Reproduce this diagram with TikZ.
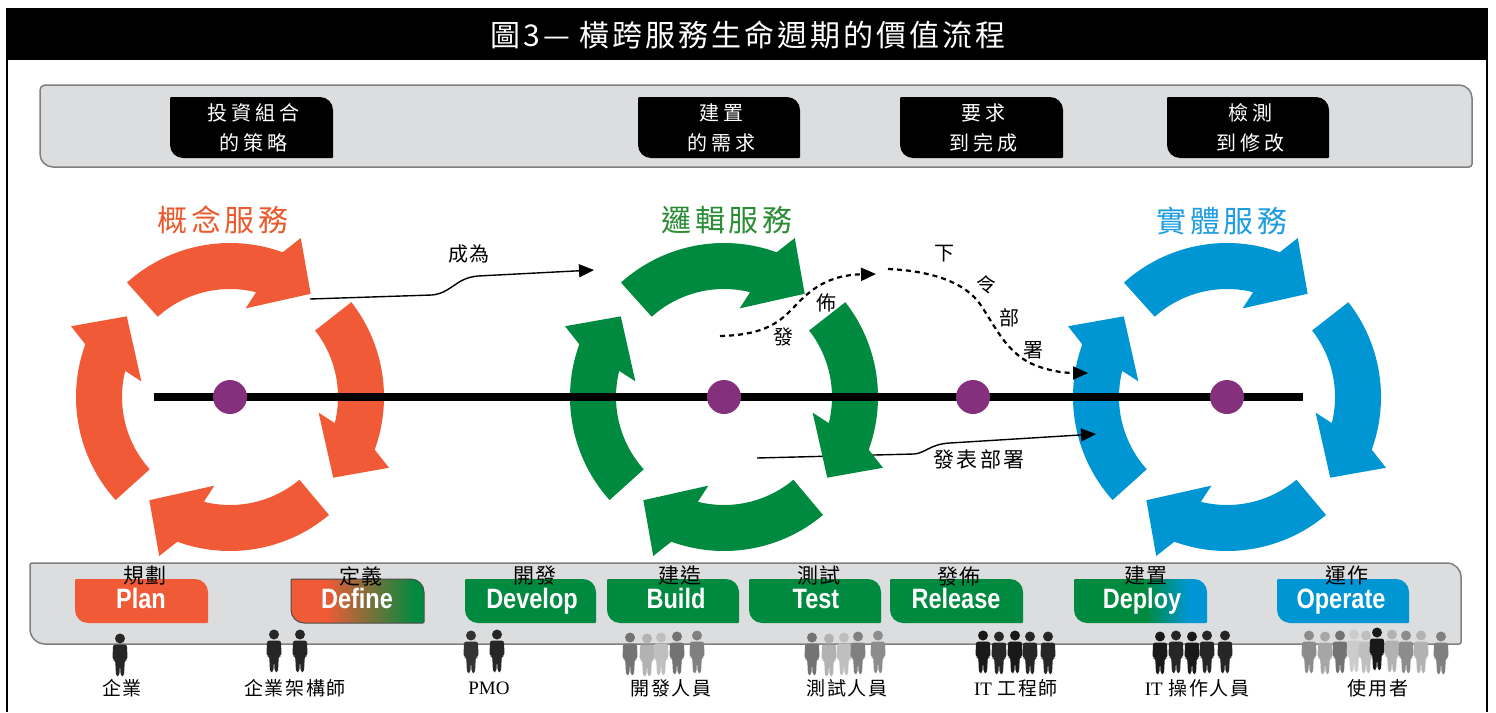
\documentclass[tikz,border=0pt]{standalone}
\usepackage{fontspec}
\setmainfont{Liberation Serif}
\newfontfamily\cjk{Noto Sans CJK TC}
\newfontfamily\phasefont[FakeStretch=0.84]{Liberation Sans Bold}
\usetikzlibrary{calc,arrows.meta}

\definecolor{ringOrange}{HTML}{F05A37}
\definecolor{ringGreen}{HTML}{008A3F}
\definecolor{ringBlue}{HTML}{0096D3}
\definecolor{titleOrange}{HTML}{EA5A2C}
\definecolor{titleGreen}{HTML}{2A8D36}
\definecolor{titleBlue}{HTML}{1E9DE2}
\definecolor{hubPurple}{HTML}{84307C}
\definecolor{barGray}{HTML}{DCDDDF}
\definecolor{barEdge}{HTML}{7F7F7F}

\pgfdeclarehorizontalshading{defineshade}{100bp}{color(0bp)=(ringOrange); color(38bp)=(ringOrange); color(72bp)=(ringGreen); color(100bp)=(ringGreen)}
\pgfdeclarehorizontalshading{deployshade}{100bp}{color(0bp)=(ringGreen); color(52bp)=(ringGreen); color(68bp)=(ringBlue); color(100bp)=(ringBlue)}

% box with individually rounded corners:
% style, x1, y1, x2, y2, r(top-left), r(top-right), r(bottom-right), r(bottom-left)
\newcommand\roundbox[9]{%
  \path[#1] ({#2+#6},#3) -- ({#4-#7},#3)
    .. controls ({#4-0.45*#7},#3) and (#4,{#3+0.45*#7}) .. (#4,{#3+#7})
    -- (#4,{#5-#8})
    .. controls (#4,{#5-0.45*#8}) and ({#4-0.45*#8},#5) .. ({#4-#8},#5)
    -- ({#2+#9},#5)
    .. controls ({#2+0.45*#9},#5) and (#2,{#5-0.45*#9}) .. (#2,{#5-#9})
    -- (#2,{#3+#6})
    .. controls (#2,{#3+0.45*#6}) and ({#2+0.45*#6},#3) .. ({#2+#6},#3) -- cycle;}

% one curved arrow of a service cycle: centre, clockwise turn, colour, tail angle
\newcommand\ringarrow[4]{%
  \fill[#3] ($(#1)+(#4:154pt)$) arc[start angle=#4, end angle=70-#2, radius=154pt]
    -- ($(#1)+(66-#2:174pt)$) -- ($(#1)+(52-#2:131pt)$) -- ($(#1)+(80-#2:90pt)$)
    -- ($(#1)+(76-#2:108pt)$) arc[start angle=76-#2, end angle=#4, radius=108pt] -- cycle;}
\newcommand\servicering[2]{\foreach \q/\t in {0/132,90/38,180/-50,270/-138}{\ringarrow{#1}{\q}{#2}{\t}}}

\begin{document}
\begin{tikzpicture}[x=1pt,y=-1pt,
  caption/.style={inner sep=0pt, text=white, align=center,
    font=\cjk\fontsize{20}{30}\selectfont\addfontfeatures{LetterSpace=20}},
  ringtitle/.style={inner sep=0pt, font=\cjk\fontsize{30}{30}\selectfont\addfontfeatures{LetterSpace=12}},
  flowlbl/.style={inner sep=0pt, font=\cjk\fontsize{20}{24}\selectfont\addfontfeatures{LetterSpace=8}},
  phaselbl/.style={inner sep=0pt, font=\cjk\fontsize{21}{24}\selectfont\addfontfeatures{LetterSpace=8}},
  phasetxt/.style={inner sep=0pt, anchor=base, text=white, font=\phasefont\fontsize{28}{28}\selectfont},
  rolelbl/.style={inner sep=0pt, font=\cjk\fontsize{19}{24}\selectfont\addfontfeatures{LetterSpace=8}},
  hub/.style={circle, fill=hubPurple, minimum size=34pt, inner sep=0pt},
  flow/.style={line width=1.4pt, -{Triangle[length=15pt,width=13pt]}},
  dflow/.style={flow, line width=2.2pt, dash pattern=on 5pt off 4pt},
  person/.pic={
    \fill (0,5.5) circle[radius=5pt];
    \fill[rounded corners=2.5pt] (-7,11.5) -- (7,11.5) -- (7.5,27) -- (4.8,27) -- (4,43)
      -- (0.7,43) -- (0,31) -- (-0.7,43) -- (-4,43) -- (-4.8,27) -- (-7.5,27) -- cycle;
  }
]
\useasboundingbox (0,0) rectangle (1496,712);
\fill[white] (0,0) rectangle (1496,712);

% frame and heading
\fill[black] (6,8) rectangle (1488,60);
\draw[line width=2.2pt] (7,8) -- (7,712);
\draw[line width=2.2pt] (1487,8) -- (1487,712);
\node[inner sep=0pt, text=white, font=\cjk\fontsize{30}{30}\selectfont\addfontfeatures{LetterSpace=10}]
  (title) at (748,35) {圖3—\ 橫跨服務生命週期的價值流程};

% upper band with the four goals
\roundbox{fill=barGray, draw=barEdge, line width=1.5pt}{40}{85}{1472}{167}{5}{13}{3}{13}
\roundbox{fill=black}{170}{97}{333}{158}{1}{13}{1}{13}
\roundbox{fill=black}{638}{97}{800}{158}{1}{13}{1}{13}
\roundbox{fill=black}{900}{97}{1063}{158}{1}{13}{1}{13}
\roundbox{fill=black}{1167}{97}{1329}{158}{1}{13}{1}{13}
\node[caption] (goalA) at (253,128) {投資組合\\的策略};
\node[caption] (goalB) at (721,128) {建置\\的需求};
\node[caption] (goalC) at (983,128) {要求\\到完成};
\node[caption] (goalD) at (1250,128) {檢測\\到修改};

% lower band with the phases
\roundbox{fill=barGray, draw=barEdge, line width=1.5pt}{30}{563}{1461}{644}{2}{14}{2}{15}
\roundbox{fill=ringOrange}{75}{579}{208}{623}{1}{13}{1}{13}
\roundbox{shade, shading=defineshade, draw=black!70, line width=1pt}{291}{579}{424}{623}{1}{13}{1}{13}
\roundbox{fill=ringGreen}{465}{579}{596}{623}{1}{13}{1}{13}
\roundbox{fill=ringGreen}{607}{579}{739}{623}{1}{13}{1}{13}
\roundbox{fill=ringGreen}{749}{579}{881}{623}{1}{13}{1}{13}
\roundbox{fill=ringGreen}{890}{579}{1023}{623}{1}{13}{1}{13}
\roundbox{shade, shading=deployshade}{1074}{579}{1207}{623}{1}{13}{1}{13}
\roundbox{fill=ringBlue}{1277}{579}{1409}{623}{1}{13}{1}{13}

\node[phasetxt] (pPlan) at (141,608) {Plan};
\node[phasetxt] (pDefine) at (357,608) {Define};
\node[phasetxt] (pDevelop) at (532,608) {Develop};
\node[phasetxt] (pBuild) at (676,608) {Build};
\node[phasetxt] (pTest) at (816,608) {Test};
\node[phasetxt] (pRelease) at (956,608) {Release};
\node[phasetxt] (pDeploy) at (1142,608) {Deploy};
\node[phasetxt] (pOperate) at (1341,608) {Operate};

\node[phaselbl] (zPlan) at (145,576) {規劃};
\node[phaselbl] (zDefine) at (361,576) {定義};
\node[phaselbl] (zDevelop) at (535,576) {開發};
\node[phaselbl] (zBuild) at (680,576) {建造};
\node[phaselbl] (zTest) at (819,576) {測試};
\node[phaselbl] (zRelease) at (959,576) {發佈};
\node[phaselbl] (zDeploy) at (1146,576) {建置};
\node[phaselbl] (zOperate) at (1347,576) {運作};

% service cycles
\coordinate (cConcept) at (230,397);
\coordinate (cLogical) at (724,397);
\coordinate (cRelease) at (973,397);
\coordinate (cPhysical) at (1227,397);
\servicering{cConcept}{ringOrange}
\servicering{cPhysical}{ringBlue}

% transitions between the cycles
\coordinate (becomeA) at (310,299);
\coordinate (becomeB) at (594,270);
\draw[flow] (becomeA) -- (432,295) .. controls (452,293) and (455,278) .. (478,276) -- (becomeB);
\node[flowlbl] (lblBecome) at (469,254) {成為};

\coordinate (pubA) at (720,336);
\coordinate (pubB) at (876,274);
\draw[dflow] (pubA) .. controls (765,335) and (780,322) .. (795,306)
  .. controls (810,290) and (828,275) .. (pubB);

\coordinate (cmdA) at (888,269);
\coordinate (cmdB) at (1088,373);
\draw[dflow] (cmdA) .. controls (935,271) and (966,284) .. (980,304)
  .. controls (995,326) and (1005,350) .. (1030,363)
  .. controls (1045,370) and (1062,373) .. (cmdB);
\node[flowlbl] (lblCmdA) at (944,254) {下};
\node[flowlbl] (lblCmdB) at (986,285) {令};
\node[flowlbl] (lblCmdC) at (1009,318) {部};
\node[flowlbl] (lblCmdD) at (1033,350) {署};

\coordinate (relA) at (757,458);
\coordinate (relB) at (1096,434);
\draw[flow] (relA) -- (914,454) .. controls (926,453) and (930,444) .. (950,443) -- (relB);
\node[flowlbl, font=\cjk\fontsize{21}{24}\selectfont\addfontfeatures{LetterSpace=12}] (lblRel) at (979,459) {發表部署};

\servicering{cLogical}{ringGreen}
\node[flowlbl] (lblPubA) at (783,337) {發};
\node[flowlbl] (lblPubB) at (826,303) {佈};

% timeline with hubs
\coordinate (lineL) at (154,397);
\coordinate (lineR) at (1303,397);
\draw[line width=8pt] (lineL) -- (lineR);
\node[hub] (hubA) at (cConcept) {};
\node[hub] (hubB) at (cLogical) {};
\node[hub] (hubC) at (cRelease) {};
\node[hub] (hubD) at (cPhysical) {};

\node[ringtitle, text=titleOrange] (tConcept) at (223,220) {概念服務};
\node[ringtitle, text=titleGreen] (tLogical) at (727,220) {邏輯服務};
\node[ringtitle, text=titleBlue] (tPhysical) at (1222,221) {實體服務};

% roles
\pic[color=black!85] at (120,633) {person};
\pic[color=black!85] at (274,629) {person};
\pic[color=black!85] at (300,629) {person};
\pic[color=black!80] at (471,630) {person};
\pic[color=black!85] at (497,629) {person};

\pic[color=black!55] at (630,632) {person};
\pic[color=black!30] at (647,633) {person};
\pic[color=black!25] at (661,632) {person};
\pic[color=black!55] at (677,631) {person};
\pic[color=black!50] at (697,630) {person};

\pic[color=black!55] at (812,632) {person};
\pic[color=black!30] at (829,633) {person};
\pic[color=black!25] at (844,632) {person};
\pic[color=black!50] at (858,631) {person};
\pic[color=black!45] at (878,630) {person};

\pic[color=black!90] at (983,630) {person};
\pic[color=black!85] at (999,631) {person};
\pic[color=black!90] at (1015,630) {person};
\pic[color=black!85] at (1030,631) {person};
\pic[color=black!85] at (1048,631) {person};

\pic[color=black!90] at (1160,631) {person};
\pic[color=black!85] at (1176,630) {person};
\pic[color=black!90] at (1192,631) {person};
\pic[color=black!85] at (1207,630) {person};
\pic[color=black!85] at (1225,630) {person};

\pic[color=black!45] at (1309,630) {person};
\pic[color=black!35] at (1325,631) {person};
\pic[color=black!55] at (1340,630) {person};
\pic[color=black!20] at (1354,629) {person};
\pic[color=black!25] at (1366,630) {person};
\pic[color=black!90] at (1377,627) {person};
\pic[color=black!30] at (1392,629) {person};
\pic[color=black!45] at (1406,630) {person};
\pic[color=black!30] at (1421,630) {person};
\pic[color=black!50] at (1441,631) {person};

\node[rolelbl] (rEnt) at (122,688) {企業};
\node[rolelbl] (rArch) at (295,688) {企業架構師};
\node[rolelbl] (rPmo) at (489,688) {\rmfamily PMO};
\node[rolelbl] (rDev) at (671,688) {開發人員};
\node[rolelbl] (rTest) at (847,688) {測試人員};
\node[rolelbl] (rEng) at (1016,688) {{\rmfamily IT} 工程師};
\node[rolelbl] (rOps) at (1197,688) {{\rmfamily IT} 操作人員};
\node[rolelbl] (rUser) at (1378,688) {使用者};
\end{tikzpicture}
\end{document}
